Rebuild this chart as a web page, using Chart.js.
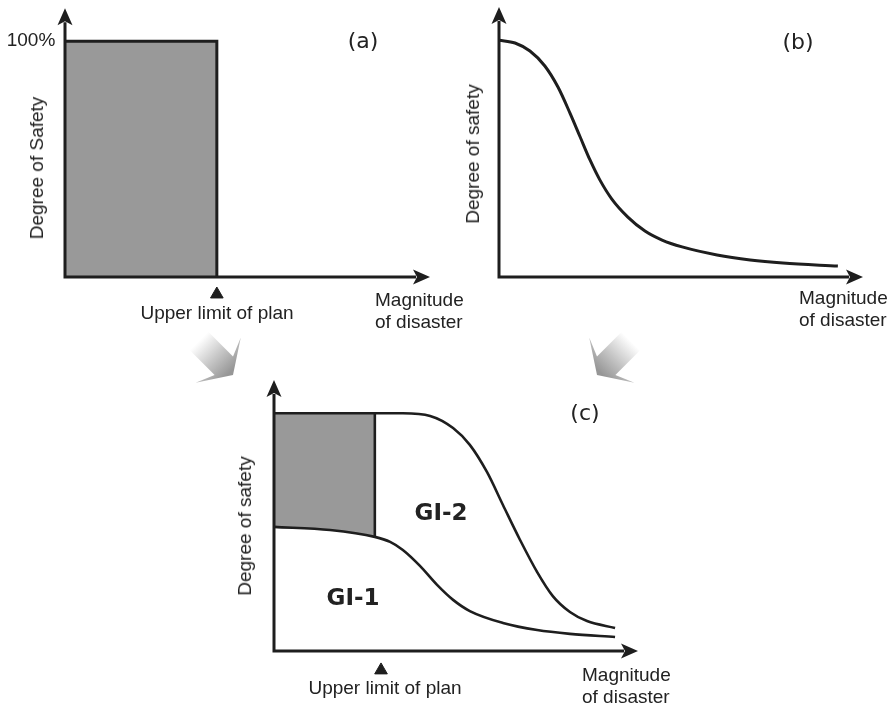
<!DOCTYPE html>
<html>
<head>
<meta charset="utf-8">
<script src="https://cdn.jsdelivr.net/npm/chart.js@4.4.1/dist/chart.umd.min.js"></script>
<style>
  body { margin: 0; background: #fff; }
  #wrap { position: relative; width: 893px; height: 708px; overflow: hidden;
          font-family: "Liberation Sans", Arial, sans-serif; color: #222; }
  canvas { position: absolute; left: 0; top: 0; }
  .lbl { position: absolute; font-size: 19px; line-height: 22px; white-space: nowrap; }
  .c { transform: translate(-50%, -50%); }
  .rot { transform: translate(-50%, -50%) rotate(-90deg); font-size: 19px; }
  .tag { font-family: "DejaVu Sans", sans-serif; font-size: 22px; }
  .gi { font-family: "DejaVu Sans", sans-serif; font-size: 23px; font-weight: bold; }
</style>
</head>
<body>
<div id="wrap">
  <canvas id="chartA" width="893" height="708"></canvas>
  <canvas id="chartB" width="893" height="708"></canvas>
  <canvas id="chartC" width="893" height="708"></canvas>

  <!-- panel (a) -->
  <div class="lbl c" style="left:31px;top:40px">100%</div>
  <div class="lbl c tag" style="left:363px;top:41px">(a)</div>
  <div class="lbl rot" style="left:37px;top:168px">Degree of Safety</div>
  <div class="lbl c" style="left:217px;top:313px">Upper limit of plan</div>
  <div class="lbl" style="left:375px;top:289px">Magnitude<br>of disaster</div>

  <!-- panel (b) -->
  <div class="lbl c tag" style="left:798px;top:42px">(b)</div>
  <div class="lbl rot" style="left:473px;top:154px">Degree of safety</div>
  <div class="lbl" style="left:799px;top:287px">Magnitude<br>of disaster</div>

  <!-- panel (c) -->
  <div class="lbl c tag" style="left:585px;top:413px">(c)</div>
  <div class="lbl c gi" style="left:441px;top:512px">GI-2</div>
  <div class="lbl c gi" style="left:353px;top:597px">GI-1</div>
  <div class="lbl rot" style="left:245px;top:526px">Degree of safety</div>
  <div class="lbl c" style="left:385px;top:688px">Upper limit of plan</div>
  <div class="lbl" style="left:582px;top:664px">Magnitude<br>of disaster</div>
</div>

<script>
// (a) planning only: safe up to the plan limit
const magA = [0, 4.16, 4.16];
const safetyA = [100, 100, 0];
const planMarkA = 4.16;

// (b) degree of safety falling with magnitude
const magB = [0, 0.44, 0.85, 1.26, 1.62, 1.95, 2.23, 2.50, 2.77, 3.10, 3.54, 4.01, 4.48, 5.03, 5.99, 6.90, 7.80, 9.31];
const safetyB = [100, 98.8, 95.4, 89.1, 80.2, 69.2, 59.1, 49.4, 41.0, 32.9, 25.3, 19.4, 15.6, 12.7, 9.3, 7.2, 5.9, 4.6];

// (c) combined: plan box + GI-1 + GI-2
const magBoxC = [0, 2.77, 2.77];
const safetyBoxC = [100, 100, 0];
const planMarkC = 2.94;
const magGI1 = [0, 1.54, 2.77, 3.19, 3.54, 4.01, 4.48, 4.92, 5.38, 6.29, 7.23, 8.13, 9.37];
const safetyGI1 = [52.2, 50.9, 48.0, 45.9, 42.5, 35.8, 27.8, 21.5, 16.8, 11.8, 8.8, 7.2, 5.9];
const magGI2 = [0, 2.77, 3.54, 4.29, 4.92, 5.38, 5.85, 6.29, 6.76, 7.23, 7.66, 8.13, 8.60, 9.37];
const safetyGI2 = [100, 100, 100, 98.9, 93.8, 86.7, 75.3, 61.4, 46.7, 33.2, 23.1, 16.4, 12.6, 9.7];

const ink = "#1e1e1e";
const shade = "#999999";

const pts = (xs, ys) => xs.map((x, i) => ({ x: x, y: ys[i] }));

function arrowHead(ctx, x, y, dx, dy) {
  const L = 17, W = 7.5, n = 4;
  const px = -dy, py = dx;
  ctx.beginPath();
  ctx.moveTo(x, y);
  ctx.lineTo(x - dx * L + px * W, y - dy * L + py * W);
  ctx.lineTo(x - dx * (L - n), y - dy * (L - n));
  ctx.lineTo(x - dx * L - px * W, y - dy * L - py * W);
  ctx.closePath();
  ctx.fill();
}

// axes with arrow heads; the x axis sits at safety = 0
const axisArrows = {
  id: "axisArrows",
  afterDatasetsDraw(chart) {
    const { ctx, chartArea: a } = chart;
    const x0 = chart.scales.x.getPixelForValue(0);
    const y0 = chart.scales.y.getPixelForValue(0);
    ctx.save();
    ctx.strokeStyle = ink;
    ctx.fillStyle = ink;
    ctx.lineWidth = 3;
    ctx.lineJoin = "miter";
    ctx.beginPath();
    ctx.moveTo(x0, a.top + 14);
    ctx.lineTo(x0, y0);
    ctx.lineTo(a.right - 14, y0);
    ctx.stroke();
    arrowHead(ctx, x0, a.top, 0, -1);
    arrowHead(ctx, a.right, y0, 1, 0);
    ctx.restore();
  }
};

// the two shaded "flow" arrows pointing into panel (c)
const bigArrows = {
  id: "bigArrows",
  beforeDraw(chart, args, opts) {
    const ctx = chart.ctx;
    (opts.items || []).forEach(([tx, ty, dx, dy]) => {
      const k = Math.hypot(dx, dy);
      dx /= k; dy /= k;
      const px = -dy, py = dx;
      const P = (u, v) => [tx + dx * u + px * v, ty + dy * u + py * v];
      const shape = [P(0, 0), P(-21, 32), P(-13, 13), P(-48, 13), P(-48, -13), P(-13, -13), P(-21, -32)];
      const t0 = P(-48, 0), t1 = P(-4, 0);
      const g = ctx.createLinearGradient(t0[0], t0[1], t1[0], t1[1]);
      g.addColorStop(0, "rgba(255,255,255,1)");
      g.addColorStop(0.55, "#c4c4c4");
      g.addColorStop(1, "#969696");
      ctx.save();
      ctx.fillStyle = g;
      ctx.beginPath();
      shape.forEach((p, i) => (i ? ctx.lineTo(p[0], p[1]) : ctx.moveTo(p[0], p[1])));
      ctx.closePath();
      ctx.fill();
      ctx.restore();
    });
  }
};

function baseOptions(pad) {
  return {
    responsive: false,
    animation: false,
    events: [],
    layout: { padding: pad },
    plugins: { legend: { display: false }, tooltip: { enabled: false } },
    scales: {
      x: { type: "linear", min: 0, max: 10, display: false },
      y: { type: "linear", min: -12, max: 114, display: false }
    },
    elements: { point: { radius: 0 } }
  };
}

const markerSet = (x, y) => ({
  data: [{ x: x, y: y }],
  showLine: false,
  pointStyle: "triangle",
  pointRadius: 7.3,
  pointBackgroundColor: ink,
  pointBorderColor: ink,
  pointBorderWidth: 1
});

const panelA = () => {
  let ctx = document.getElementById("chartA").getContext("2d");
  new Chart(ctx, {
    type: "line",
    data: {
      datasets: [
        markerSet(planMarkA, -7.3),
        {
          data: pts(magA, safetyA),
          borderColor: ink,
          borderWidth: 3,
          backgroundColor: shade,
          fill: "origin",
          tension: 0
        }
      ]
    },
    options: baseOptions({ left: 65, top: 7, right: 463, bottom: 402.6 }),
    plugins: [axisArrows]
  });
};

const panelB = () => {
  let ctx = document.getElementById("chartB").getContext("2d");
  new Chart(ctx, {
    type: "line",
    data: {
      datasets: [
        {
          data: pts(magB, safetyB),
          borderColor: ink,
          borderWidth: 3,
          fill: false,
          cubicInterpolationMode: "monotone"
        }
      ]
    },
    options: baseOptions({ left: 499, top: 7, right: 30, bottom: 402.6 }),
    plugins: [axisArrows]
  });
};

const panelC = () => {
  let ctx = document.getElementById("chartC").getContext("2d");
  let opts = baseOptions({ left: 274, top: 380, right: 255, bottom: 28.5 });
  opts.plugins.bigArrows = { items: [[233, 375, 1, 1], [597, 375, -1, 1]] };
  new Chart(ctx, {
    type: "line",
    data: {
      datasets: [
        markerSet(planMarkC, -8.1),
        {
          label: "GI-1",
          data: pts(magGI1, safetyGI1),
          borderColor: ink,
          borderWidth: 2.6,
          backgroundColor: "#ffffff",
          fill: "origin",
          cubicInterpolationMode: "monotone"
        },
        {
          label: "Plan",
          data: pts(magBoxC, safetyBoxC),
          borderColor: ink,
          borderWidth: 2.6,
          backgroundColor: shade,
          fill: "origin",
          tension: 0
        },
        {
          label: "GI-2",
          data: pts(magGI2, safetyGI2),
          borderColor: ink,
          borderWidth: 2.6,
          fill: false,
          cubicInterpolationMode: "monotone"
        }
      ]
    },
    options: opts,
    plugins: [axisArrows, bigArrows]
  });
};

panelA();
panelB();
panelC();
</script>
</body>
</html>
